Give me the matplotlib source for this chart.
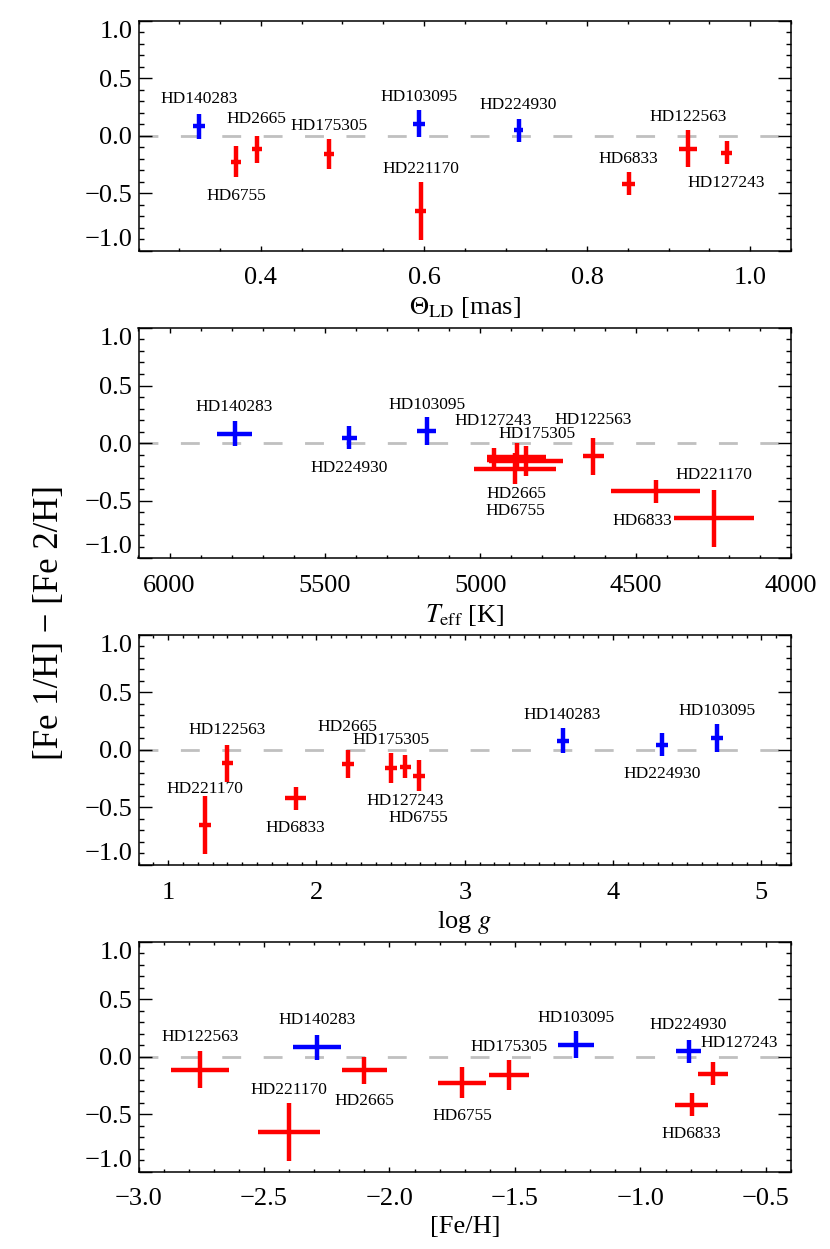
import numpy as np
import matplotlib
matplotlib.use('Agg')
import matplotlib.pyplot as plt
from matplotlib.ticker import FixedLocator, MultipleLocator, FuncFormatter

plt.rcParams['font.family'] = ['Liberation Serif', 'DejaVu Serif']
plt.rcParams['mathtext.fontset'] = 'stix'

# stars, in one fixed order for all arrays
names = ['HD140283', 'HD103095', 'HD224930', 'HD2665', 'HD6755',
         'HD175305', 'HD221170', 'HD6833', 'HD122563', 'HD127243']
dwarf = [True, True, True, False, False, False, False, False, False, False]

# [Fe 1/H] - [Fe 2/H]
dfe = [0.08, 0.105, 0.045, -0.12, -0.225, -0.16, -0.655, -0.42, -0.115, -0.147]
dfe_err = [0.11, 0.12, 0.10, 0.12, 0.135, 0.13, 0.25, 0.10, 0.16, 0.10]

theta = [0.324, 0.594, 0.716, 0.395, 0.370, 0.484, 0.596, 0.851, 0.924, 0.971]
theta_err = [0.007, 0.007, 0.006, 0.006, 0.006, 0.006, 0.007, 0.008, 0.011, 0.007]

teff = [5791, 5173, 5421, 4883, 4888, 4853, 4248, 4436, 4636, 4957]
teff_err = [55, 31, 25, 94, 132, 118, 128, 142, 35, 20]

logg = [3.66, 4.70, 4.33, 2.21, 2.69, 2.50, 1.25, 1.86, 1.40, 2.60]
logg_err = [0.04, 0.04, 0.04, 0.04, 0.04, 0.04, 0.04, 0.07, 0.04, 0.04]

feh = [-2.29, -1.256, -0.808, -2.10, -1.71, -1.525, -2.40, -0.796, -2.755, -0.711]
feh_err = [0.095, 0.072, 0.05, 0.09, 0.096, 0.08, 0.125, 0.066, 0.116, 0.06]

# label offsets (pixels) per panel, same order as names
off_theta = [(0, 27), (0, 27), (0, 25), (0, 30), (0, -34), (0, 28), (0, 42), (0, 25), (0, 32), (0, -30)]
off_teff = [(0, 27), (0, 26), (0, -30), (0, -37), (0, -42), (11, 27), (0, 43), (-13, -30), (0, 36), (0, 39)]
off_logg = [(0, 26), (0, 27), (0, -29), (0, 37), (0, -42), (0, 28), (0, 36), (0, -30), (0, 33), (0, -34)]
off_feh = [(0, 27), (0, 27), (0, 26), (0, -31), (0, -33), (0, 28), (0, 42), (0, -29), (0, 33), (26, 31)]

panels = [
    (theta, theta_err, off_theta, r'$\Theta_{\rm LD}$ [mas]', (0.25, 1.05), [0.4, 0.6, 0.8, 1.0], 0.05, '%.1f'),
    (teff, teff_err, off_teff, r'$T_{\rm eff}$ [K]', (6100, 4000), [6000, 5500, 5000, 4500, 4000], 100, '%d'),
    (logg, logg_err, off_logg, r'log $g$', (0.8, 5.2), [1, 2, 3, 4, 5], 0.1, '%d'),
    (feh, feh_err, off_feh, '[Fe/H]', (-3.0, -0.4), [-3.0, -2.5, -2.0, -1.5, -1.0, -0.5], 0.1, '%.1f'),
]


def minus_fmt(fmt):
    return FuncFormatter(lambda v, pos: (fmt % v).replace('-', '\u2212'))


fig = plt.figure(figsize=(8.3, 12.49), dpi=100)
bottoms = [0.7993, 0.5532, 0.3075, 0.0619]
left, width, height = 138.5 / 830, (791 - 138.5) / 830, 0.1842

for (x, xerr, offs, xlab, xlim, xticks, xminor, fmt), b in zip(panels, bottoms):
    ax = fig.add_axes([left, b, width, height])
    ax.axhline(0.0, color='#c0c0c0', lw=2, dashes=(6.8, 8.1), zorder=1)
    for i in range(len(names)):
        col = 'blue' if dwarf[i] else 'red'
        ax.errorbar(x[i], dfe[i], xerr=xerr[i], yerr=dfe_err[i], fmt='none',
                    ecolor=col, elinewidth=3.2, capsize=0, zorder=3)
        ax.annotate(names[i], (x[i], dfe[i]), xytext=offs[i], textcoords='offset pixels',
                    ha='center', va='center', fontsize=12.5)
    ax.set_xlim(*xlim)
    ax.set_ylim(-1.0, 1.0)
    ax.xaxis.set_major_locator(FixedLocator(xticks))
    ax.xaxis.set_major_formatter(minus_fmt(fmt))
    ax.xaxis.set_minor_locator(MultipleLocator(xminor))
    ax.yaxis.set_major_locator(FixedLocator([-1.0, -0.5, 0.0, 0.5, 1.0]))
    ax.yaxis.set_major_formatter(minus_fmt('%.1f'))
    ax.yaxis.set_minor_locator(MultipleLocator(0.1))
    ax.tick_params(which='both', direction='in', top=True, right=True, labelsize=19, width=1)
    ax.tick_params(axis='x', which='major', length=3.6, pad=12)
    ax.tick_params(axis='x', which='minor', length=2.5)
    ax.tick_params(axis='y', which='major', length=9.1, pad=4.5)
    ax.tick_params(axis='y', which='minor', length=3.8)
    for s in ax.spines.values():
        s.set_linewidth(1.1)
    ax.set_xlabel(xlab, fontsize=19, labelpad=4)
    yt = ax.yaxis.get_major_ticks()
    yt[0].label1.set_va('bottom')
    yt[-1].label1.set_va('top')

fig.text(0.06, 0.502, '[Fe 1/H] \u2212 [Fe 2/H]', rotation=90, ha='center', va='center', fontsize=25)

plt.savefig('out.png', dpi=100)
plt.close()
